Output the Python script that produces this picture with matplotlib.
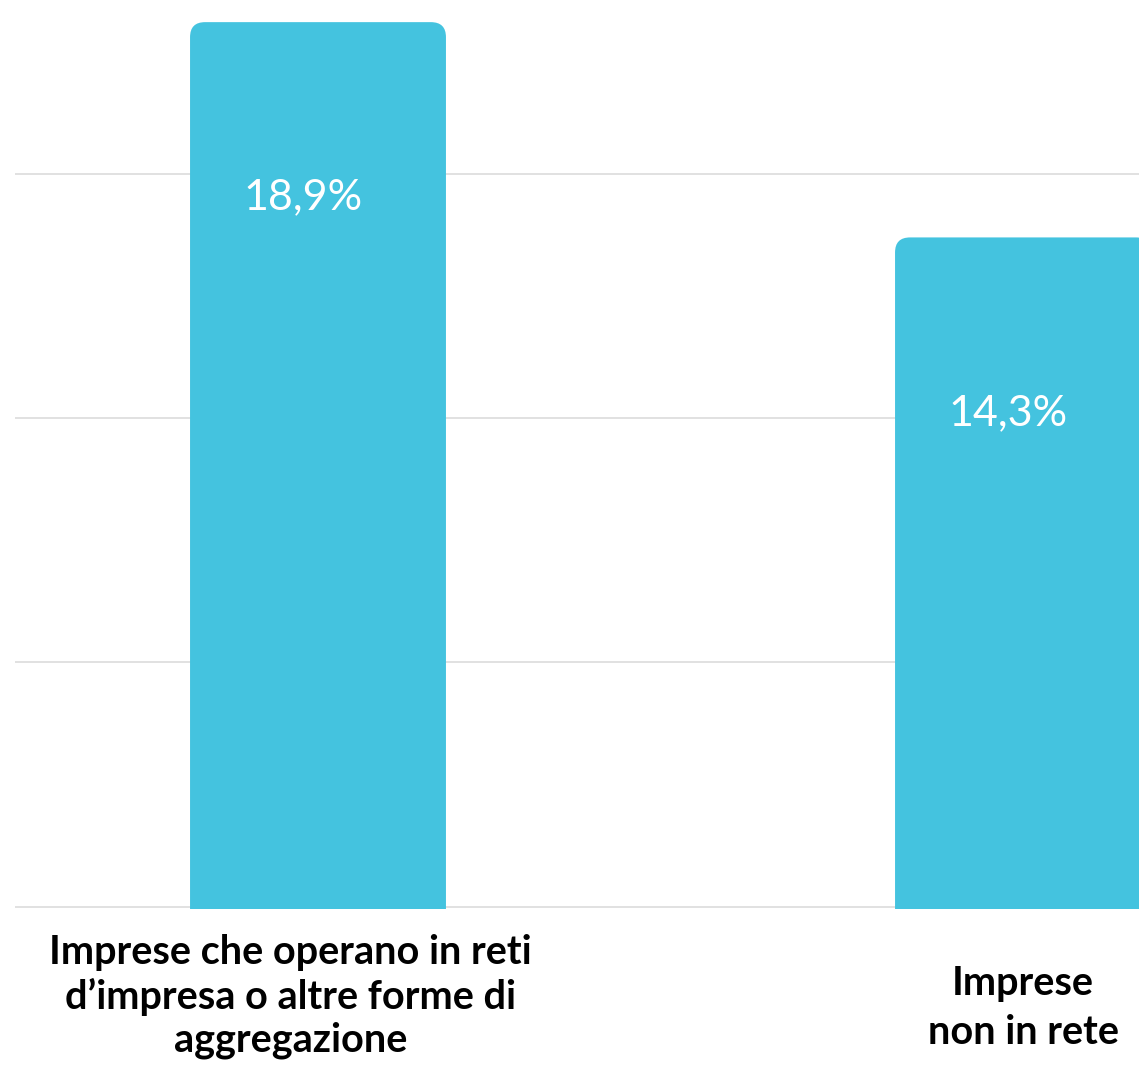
import numpy as np
import matplotlib.pyplot as plt
from matplotlib.patches import FancyBboxPatch

# data
categories = ["Imprese che operano in reti\nd\u2019impresa o altre forme di\naggregazione",
              "Imprese\nnon in rete"]
values = [18.9, 14.3]
value_labels = ["18,9%", "14,3%"]
grid_step = 5.22

bar_color = "#44C3DF"
plt.rcParams['font.family'] = ['Lato', 'DejaVu Sans']

fig = plt.figure(figsize=(11.39, 10.76), dpi=100)
ax = fig.add_axes([15 / 1139, 167 / 1076, 1 - 15 / 1139, 909 / 1076])

x = np.arange(len(values))
width = 0.363
px_x = 705.0       # pixels per x unit
px_y = 46.8        # pixels per y unit

ax.set_xlim(-303 / px_x, 1 + 116 / px_x)
ax.set_ylim(-0.05, 909 / px_y - 0.05)

for xi, v in zip(x, values):
    box = FancyBboxPatch((xi - width / 2, -1), width, v + 1,
                         boxstyle="round,pad=0,rounding_size=%.4f" % (15 / px_x),
                         mutation_aspect=px_x / px_y,
                         facecolor=bar_color, edgecolor="none", zorder=2)
    ax.add_patch(box)

# value labels
for xi, v, lab in zip(x, values, value_labels):
    ax.annotate(lab, xy=(xi, v - 3.75), xytext=(-11, 0), textcoords="offset points",
                ha="center", va="center", color="white", fontsize=31, zorder=3)

# category labels
ax.annotate(categories[0], xy=(x[0], 0), xycoords="data", xytext=(-20, -20),
            textcoords="offset points", ha="center", va="top", fontsize=28.5,
            fontweight="bold", linespacing=1.2, annotation_clip=False)
ax.annotate(categories[1], xy=(x[1], 0), xycoords="data", xytext=(0, -73),
            textcoords="offset points", ha="center", va="center", fontsize=28.5,
            fontweight="bold", linespacing=1.4, annotation_clip=False)

ax.set_yticks(np.arange(0, 16, grid_step))
ax.yaxis.grid(True, color="#D9D9D9", linewidth=1.1)
ax.set_axisbelow(True)
ax.tick_params(left=False, bottom=False, labelleft=False, labelbottom=False)
ax.set_xticks([])
for s in ax.spines.values():
    s.set_visible(False)

fig.savefig("out.png", dpi=100)
